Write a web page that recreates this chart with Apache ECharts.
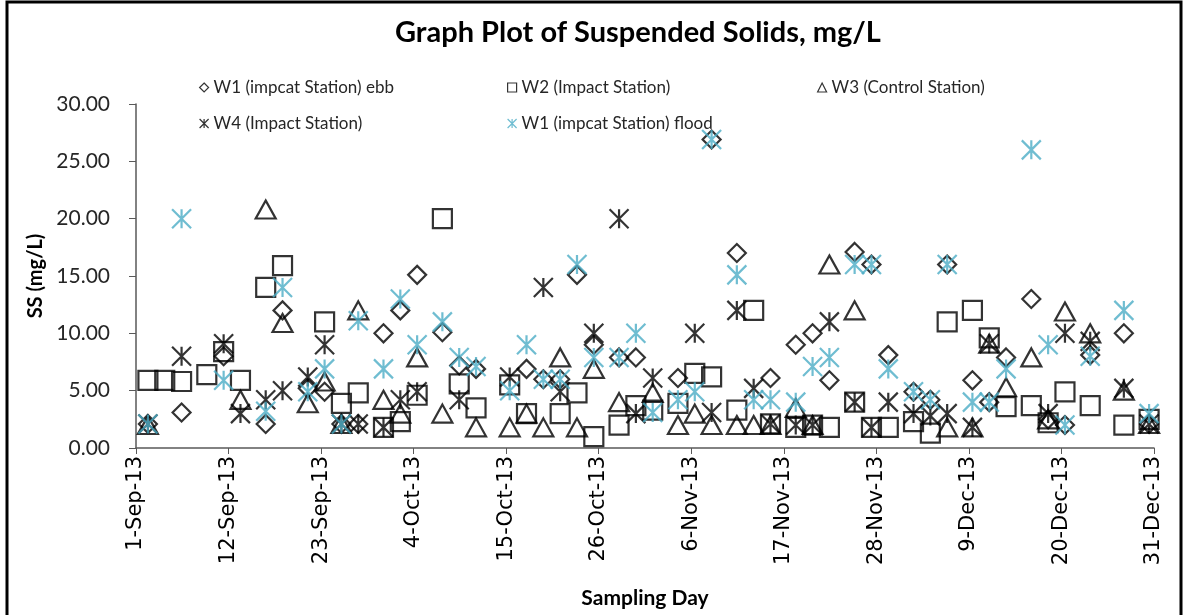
<!DOCTYPE html>
<html>
<head>
<meta charset="utf-8">
<title>Suspended Solids</title>
<script src="https://cdn.jsdelivr.net/npm/echarts@6/dist/echarts.min.js"></script>
<style>
  html, body { margin: 0; padding: 0; background: #fff; }
  #chart { width: 1188px; height: 615px; }
</style>
</head>
<body>
<div id="chart"></div>
<script>
// sampling dates
var sampleDates = [
  '2013-09-02', '2013-09-04', '2013-09-06', '2013-09-09', '2013-09-11', '2013-09-13',
  '2013-09-16', '2013-09-18', '2013-09-21', '2013-09-23', '2013-09-25', '2013-09-27',
  '2013-09-30', '2013-10-02', '2013-10-04', '2013-10-07', '2013-10-09', '2013-10-11',
  '2013-10-15', '2013-10-17', '2013-10-19', '2013-10-21', '2013-10-23', '2013-10-25',
  '2013-10-28', '2013-10-30', '2013-11-01', '2013-11-04', '2013-11-06', '2013-11-08',
  '2013-11-11', '2013-11-13', '2013-11-15', '2013-11-18', '2013-11-20', '2013-11-22',
  '2013-11-25', '2013-11-27', '2013-11-29', '2013-12-02', '2013-12-04', '2013-12-06',
  '2013-12-09', '2013-12-11', '2013-12-13', '2013-12-16', '2013-12-18', '2013-12-20',
  '2013-12-23', '2013-12-27', '2013-12-30'
];
var sampleHour = 10; // samples taken in the morning

var w1Ebb = [
  2.1, null, 3.1, null, 8.0, null,
  2.1, 12.0, 5.2, 4.9, 2.1, 2.1,
  10.0, 12.0, 15.1, 10.1, 7.2, 6.9,
  null, 6.9, 6.0, 6.0, 15.1, 9.0,
  7.9, 7.9, null, 6.1, null, 26.9,
  17.0, null, 6.1, 9.0, 10.0, 5.9,
  17.1, 16.0, 8.1, 4.9, 4.2, 16.0,
  5.9, 4.0, 7.9, 13.0, 2.5, 2.0,
  8.1, 10.0, 2.1
];
var w2Impact = [
  5.9, 5.9, 5.8, 6.4, 8.4, 5.9,
  14.0, 15.9, null, 11.0, 3.9, 4.8,
  1.8, 2.3, 4.6, 20.0, 5.6, 3.5,
  5.5, 3.0, null, 3.0, 4.8, 1.0,
  2.0, 3.7, 3.3, 3.9, 6.5, 6.2,
  3.3, 12.0, 2.1, 1.8, 2.0, 1.8,
  4.0, 1.8, 1.8, 2.3, 1.3, 11.0,
  12.0, 9.6, 3.6, 3.7, 2.2, 4.9,
  3.7, 2.0, 2.5
];
var w3Control = [
  2.0, null, null, null, null, 4.2,
  20.8, 10.9, 3.9, 5.8, 2.1, 12.0,
  4.2, 3.0, 7.9, 3.0, null, 1.8,
  1.8, 3.0, 1.8, 7.9, 1.8, 6.9,
  4.0, null, 4.8, 2.0, 3.0, 2.0,
  2.0, 2.0, 2.0, 3.5, 2.0, 16.0,
  12.0, null, null, null, null, 1.8,
  1.8, 9.1, 5.3, 7.9, 2.5, 11.9,
  10.0, 5.0, 2.1
];
var w4Impact = [
  2.1, null, 8.0, null, 9.1, 3.0,
  4.2, 5.0, 6.2, 9.0, 2.1, 2.1,
  1.8, 4.2, 4.9, null, 4.2, null,
  6.2, null, 14.0, 4.9, null, 10.0,
  20.0, 3.0, 6.1, null, 10.0, 3.1,
  12.0, 5.2, 2.1, 2.0, 2.0, 11.0,
  4.0, 1.8, 4.0, 3.0, 2.8, 3.0,
  1.8, 9.1, null, null, 3.0, 10.0,
  9.3, 5.2, 2.1
];
var w1Flood = [
  2.1, null, 20.0, null, 5.9, null,
  3.2, 14.0, 4.9, 6.9, 2.1, 11.1,
  6.9, 13.0, 9.0, 11.0, 7.9, 7.1,
  5.0, 9.0, 6.0, 6.0, 16.0, 7.9,
  7.9, 10.0, 3.1, 4.2, 4.9, 26.9,
  15.1, 4.2, 4.2, 4.0, 7.1, 7.9,
  16.0, 16.0, 6.9, 4.9, 4.2, 16.0,
  4.0, 4.0, 6.9, 26.0, 9.0, 2.0,
  8.0, 12.0, 3.0
];

var seriesNames = [
  'W1 (impcat Station) ebb',
  'W2 (Impact Station)',
  'W3 (Control Station)',
  'W4 (Impact Station)',
  'W1 (impcat Station) flood'
];
var yTicks = [0, 5, 10, 15, 20, 25, 30];

var startDay = Date.UTC(2013, 8, 1);
var months = ['Jan', 'Feb', 'Mar', 'Apr', 'May', 'Jun', 'Jul', 'Aug', 'Sep', 'Oct', 'Nov', 'Dec'];

function dayIndex(s) {
  var p = s.split('-');
  var t = Date.UTC(+p[0], +p[1] - 1, +p[2], sampleHour);
  return (t - startDay) / 86400000;
}
function dayLabel(v) {
  var d = new Date(startDay + Math.round(v) * 86400000);
  return d.getUTCDate() + '-' + months[d.getUTCMonth()] + '-' + String(d.getUTCFullYear()).slice(2);
}
function pairs(vals) {
  var out = [];
  for (var i = 0; i < sampleDates.length; i++) {
    if (vals[i] != null) out.push([dayIndex(sampleDates[i]), vals[i]]);
  }
  return out;
}

var asterisk = 'path://M0,0L10,10M10,0L0,10M5,0L5,10';
var styles = [
  { symbol: 'diamond', size: [18, 18], color: '#000' },
  { symbol: 'rect', size: [19, 19], color: '#000' },
  { symbol: 'triangle', size: [20, 18], color: '#000' },
  { symbol: asterisk, size: [19, 19], color: '#000' },
  { symbol: asterisk, size: [19, 19], color: '#4bacc6' }
];
var allVals = [w1Ebb, w2Impact, w3Control, w4Impact, w1Flood];

var series = allVals.map(function (vals, i) {
  return {
    name: seriesNames[i],
    type: 'scatter',
    symbol: styles[i].symbol,
    symbolSize: styles[i].size,
    itemStyle: { color: 'rgba(0,0,0,0)', borderColor: styles[i].color, borderWidth: 2.2 },
    emphasis: { disabled: true },
    data: pairs(vals)
  };
});

// legend spots, two rows like the original
var legendPos = [[194, 74], [502, 74], [812, 74], [194, 110], [502, 110]];
var legends = seriesNames.map(function (n, i) {
  return {
    data: [{ name: n, itemStyle: { color: 'rgba(0,0,0,0)', borderColor: styles[i].color, borderWidth: 1.2 } }],
    left: legendPos[i][0],
    top: legendPos[i][1],
    itemWidth: 9,
    itemHeight: 9,
    itemGap: 6,
    selectedMode: false,
    textStyle: { fontFamily: 'Lato', fontSize: 17, color: '#262626' }
  };
});

var myChart = echarts.init(document.getElementById('chart'));
var option = {
  animation: false,
  title: {
    text: 'Graph Plot of Suspended Solids, mg/L',
    left: 390,
    top: 13,
    textStyle: { fontFamily: 'Lato', fontSize: 29, fontWeight: 'bold', color: '#000' }
  },
  legend: legends,
  graphic: [{
    type: 'rect',
    shape: { x: 7, y: 2, width: 1174, height: 640 },
    style: { fill: 'none', stroke: '#000', lineWidth: 3 }
  }],
  grid: { left: 136, right: 34, top: 104, bottom: 167 },
  xAxis: {
    type: 'value',
    min: 0,
    max: 121,
    interval: 11,
    name: 'Sampling Day',
    nameLocation: 'middle',
    nameGap: 140,
    nameTextStyle: { fontFamily: 'Lato', fontSize: 21, fontWeight: 'bold', color: '#000' },
    axisLine: { lineStyle: { color: '#595959', width: 1.5 } },
    axisTick: { length: 6, lineStyle: { color: '#595959' } },
    splitLine: { show: false },
    axisLabel: {
      rotate: 90,
      margin: 8,
      fontFamily: 'DejaVu Sans',
      fontSize: 21,
      color: '#000',
      formatter: dayLabel
    }
  },
  yAxis: {
    type: 'value',
    min: yTicks[0],
    max: yTicks[yTicks.length - 1],
    interval: 5,
    name: 'SS (mg/L)',
    nameLocation: 'middle',
    nameGap: 86,
    nameTextStyle: { fontFamily: 'Lato', fontSize: 20, fontWeight: 'bold', color: '#000' },
    axisLine: { show: true, lineStyle: { color: '#595959', width: 1.5 } },
    axisTick: { show: true, length: 7, lineStyle: { color: '#595959' } },
    splitLine: { show: false },
    axisLabel: {
      margin: 26,
      fontFamily: 'Lato',
      fontSize: 21,
      color: '#262626',
      formatter: function (v) { return v.toFixed(2); }
    }
  },
  series: series
};
option && myChart.setOption(option);
</script>
</body>
</html>
